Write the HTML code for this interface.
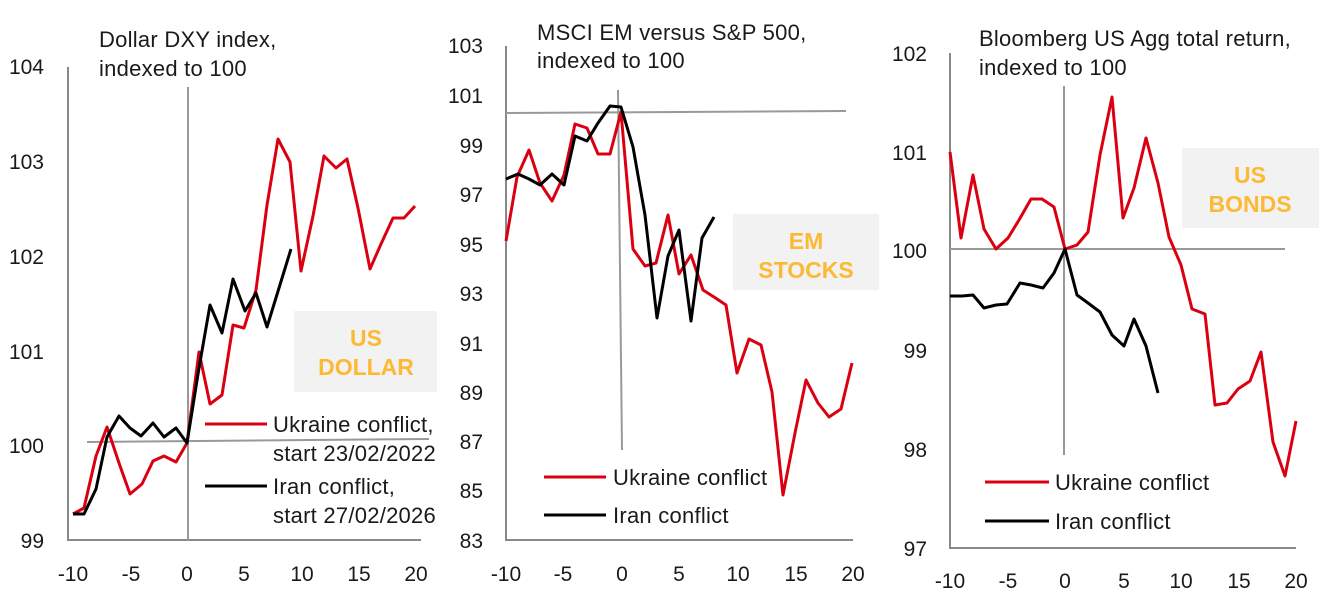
<!DOCTYPE html>
<html><head><meta charset="utf-8"><style>
html,body{margin:0;padding:0;background:#fff;}
svg{display:block;}
text{font-family:"Liberation Sans",Arial,sans-serif;fill:#1a1a1a;}
.t{font-size:22px;letter-spacing:0.25px;}
.k{font-size:21px;}
.b{font-size:23px;font-weight:bold;fill:#fdb933;}
</style></head><body>
<svg width="1327" height="610" viewBox="0 0 1327 610" xmlns="http://www.w3.org/2000/svg">
<!-- PANEL 1 -->
<g>
<rect x="294" y="311" width="143" height="81" fill="#f2f2f2"/>
<text class="b" x="366" y="346" text-anchor="middle">US</text>
<text class="b" x="366" y="375" text-anchor="middle">DOLLAR</text>
<line x1="68" y1="67" x2="68" y2="541" stroke="#888" stroke-width="2"/>
<line x1="67" y1="540" x2="421" y2="540" stroke="#888" stroke-width="2"/>
<line x1="188" y1="87" x2="188" y2="540" stroke="#999" stroke-width="2"/>
<line x1="87" y1="442" x2="429" y2="439" stroke="#999" stroke-width="2"/>
<polyline fill="none" stroke="#db0011" stroke-width="3" stroke-linejoin="round" points="73,514 84,508 96,456 107,427 119,463 130,494 142,484 153,461 164,456 176,462 187,443 199,352 210,404 222,395 233,325 244,328 256,290 267,205 278,139 290,162 301,271 313,216 324,156 336,168 347,159 358,208 370,269 381,244 393,218 404,218 415,206"/>
<polyline fill="none" stroke="#000" stroke-width="3" stroke-linejoin="round" points="73,514 84,514 96,489 107,437 119,416 130,428 141,436 153,423 164,437 176,428 187,443 199,368 210,305 222,333 233,279 245,311 256,293 267,327 279,288 291,249"/>
<text class="t" x="99" y="47">Dollar DXY index,</text>
<text class="t" x="99" y="76">indexed to 100</text>
<g class="k" text-anchor="end">
<text class="k" x="44" y="74">104</text>
<text class="k" x="44" y="169">103</text>
<text class="k" x="44" y="264">102</text>
<text class="k" x="44" y="359">101</text>
<text class="k" x="44" y="453">100</text>
<text class="k" x="44" y="548">99</text>
</g>
<g text-anchor="middle">
<text class="k" x="73" y="581">-10</text>
<text class="k" x="131" y="581">-5</text>
<text class="k" x="187" y="581">0</text>
<text class="k" x="244" y="581">5</text>
<text class="k" x="302" y="581">10</text>
<text class="k" x="359" y="581">15</text>
<text class="k" x="416" y="581">20</text>
</g>
<line x1="205" y1="424" x2="267" y2="424" stroke="#db0011" stroke-width="3"/>
<line x1="205" y1="486" x2="267" y2="486" stroke="#000" stroke-width="3"/>
<text class="t" x="273" y="432">Ukraine conflict,</text>
<text class="t" x="273" y="461">start 23/02/2022</text>
<text class="t" x="273" y="494">Iran conflict,</text>
<text class="t" x="273" y="523">start 27/02/2026</text>
</g>
<!-- PANEL 2 -->
<g>
<rect x="733" y="214" width="146" height="76" fill="#f2f2f2"/>
<text class="b" x="806" y="249" text-anchor="middle">EM</text>
<text class="b" x="806" y="278" text-anchor="middle">STOCKS</text>
<line x1="506" y1="46" x2="506" y2="541" stroke="#888" stroke-width="2"/>
<line x1="505" y1="540" x2="853" y2="540" stroke="#888" stroke-width="2"/>
<line x1="618" y1="90" x2="622" y2="450" stroke="#999" stroke-width="2"/>
<line x1="506" y1="113" x2="846" y2="111" stroke="#999" stroke-width="2"/>
<polyline fill="none" stroke="#db0011" stroke-width="3" stroke-linejoin="round" points="506,241 517,177 529,150 540,183 552,201 564,175 575,124 587,128 598,154 610,154 621,112 633,249 645,266 656,263 668,215 679,274 691,255 703,290 714,297 726,305 737,373 749,339 761,345 772,392 783,495 795,433 806,380 818,403 829,417 841,409 852,363"/>
<polyline fill="none" stroke="#000" stroke-width="3" stroke-linejoin="round" points="506,179 518,174 529,179 540,185 552,174 564,185 575,136 587,141 598,123 610,106 621,107 633,147 645,215 657,318 668,256 679,230 691,321 702,238 714,217"/>
<text class="t" x="537" y="40">MSCI EM versus S&amp;P 500,</text>
<text class="t" x="537" y="68">indexed to 100</text>
<g text-anchor="end">
<text class="k" x="483" y="53">103</text>
<text class="k" x="483" y="103">101</text>
<text class="k" x="483" y="153">99</text>
<text class="k" x="483" y="202">97</text>
<text class="k" x="483" y="252">95</text>
<text class="k" x="483" y="301">93</text>
<text class="k" x="483" y="351">91</text>
<text class="k" x="483" y="400">89</text>
<text class="k" x="483" y="449">87</text>
<text class="k" x="483" y="498">85</text>
<text class="k" x="483" y="548">83</text>
</g>
<g text-anchor="middle">
<text class="k" x="506" y="581">-10</text>
<text class="k" x="563" y="581">-5</text>
<text class="k" x="622" y="581">0</text>
<text class="k" x="679" y="581">5</text>
<text class="k" x="738" y="581">10</text>
<text class="k" x="796" y="581">15</text>
<text class="k" x="853" y="581">20</text>
</g>
<line x1="544" y1="477" x2="606" y2="477" stroke="#db0011" stroke-width="3"/>
<line x1="544" y1="515" x2="606" y2="515" stroke="#000" stroke-width="3"/>
<text class="t" x="613" y="485">Ukraine conflict</text>
<text class="t" x="613" y="523">Iran conflict</text>
</g>
<!-- PANEL 3 -->
<g>
<rect x="1182" y="148" width="137" height="80" fill="#f2f2f2"/>
<text class="b" x="1250" y="183" text-anchor="middle">US</text>
<text class="b" x="1250" y="212" text-anchor="middle">BONDS</text>
<line x1="950" y1="53" x2="950" y2="549" stroke="#888" stroke-width="2"/>
<line x1="949" y1="548" x2="1296" y2="548" stroke="#888" stroke-width="2"/>
<line x1="1064" y1="86" x2="1064" y2="455" stroke="#999" stroke-width="2"/>
<line x1="950" y1="249" x2="1285" y2="249" stroke="#999" stroke-width="2"/>
<polyline fill="none" stroke="#db0011" stroke-width="3" stroke-linejoin="round" points="950,152 961,238 973,175 984,229 996,249 1008,238 1019,220 1031,199 1042,199 1054,207 1065,249 1077,245 1088,232 1100,155 1112,97 1123,218 1134,188 1146,138 1158,183 1169,237 1181,265 1192,309 1205,314 1215,405 1227,403 1238,389 1250,381 1261,352 1273,442 1285,476 1296,421"/>
<polyline fill="none" stroke="#000" stroke-width="3" stroke-linejoin="round" points="950,296 962,296 973,295 984,308 996,305 1007,304 1020,283 1031,285 1043,288 1054,273 1065,249 1077,295 1088,303 1100,312 1112,335 1124,346 1134,319 1146,346 1158,393"/>
<text class="t" x="979" y="46">Bloomberg US Agg total return,</text>
<text class="t" x="979" y="75">indexed to 100</text>
<g text-anchor="end">
<text class="k" x="927" y="61">102</text>
<text class="k" x="927" y="160">101</text>
<text class="k" x="927" y="258">100</text>
<text class="k" x="927" y="358">99</text>
<text class="k" x="927" y="457">98</text>
<text class="k" x="927" y="556">97</text>
</g>
<g text-anchor="middle">
<text class="k" x="950" y="588">-10</text>
<text class="k" x="1008" y="588">-5</text>
<text class="k" x="1065" y="588">0</text>
<text class="k" x="1124" y="588">5</text>
<text class="k" x="1181" y="588">10</text>
<text class="k" x="1239" y="588">15</text>
<text class="k" x="1296" y="588">20</text>
</g>
<line x1="985" y1="482" x2="1049" y2="482" stroke="#db0011" stroke-width="3"/>
<line x1="985" y1="521" x2="1049" y2="521" stroke="#000" stroke-width="3"/>
<text class="t" x="1055" y="490">Ukraine conflict</text>
<text class="t" x="1055" y="529">Iran conflict</text>
</g>
</svg>
</body></html>
